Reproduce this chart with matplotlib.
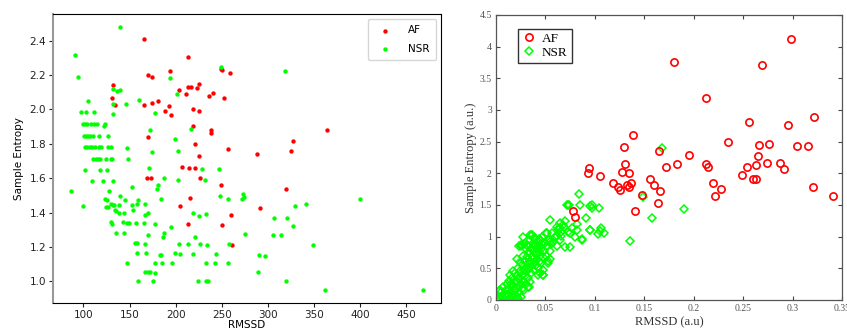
import numpy as np
import matplotlib
matplotlib.use("Agg")
import matplotlib.pyplot as plt
from matplotlib.lines import Line2D

# ---- left panel: RMSSD vs sample entropy (raw units) ----
af_left = [(166, 2.41), (213.6, 2.305), (170.4, 2.2), (174.8, 2.19), (194, 2.224),
           (132, 2.142), (130.5, 2.068), (134.5, 2.023), (166, 2.023), (174.8, 2.037),
           (181.3, 2.05), (188.6, 1.992), (193.3, 2.017), (195.5, 1.965), (203.5, 2.11),
           (211, 2.087), (213.6, 2.132), (216.5, 2.132), (222.7, 2.122), (224.9, 2.146),
           (218.7, 2.0), (225.6, 1.99), (236.5, 2.078), (240.9, 2.097), (248.9, 2.233),
           (250, 2.227), (258.7, 2.21), (252, 2.068), (218.7, 1.901), (169.7, 1.84),
           (220.9, 1.796), (238.3, 1.883), (238.3, 1.864), (256.9, 1.767), (287.7, 1.74),
           (325.1, 1.76), (327.7, 1.817), (363.6, 1.882), (225.6, 1.728), (206.8, 1.668),
           (214.8, 1.658), (220.9, 1.658), (169.3, 1.604), (173.3, 1.6), (226.7, 1.6),
           (249.6, 1.559), (319.7, 1.538), (215.5, 1.486), (204.6, 1.437), (291, 1.428),
           (260.5, 1.387), (212.9, 1.333), (250.3, 1.329), (261.2, 1.21)]

nsr_left = [(139.6, 2.478), (90.6, 2.318), (94.6, 2.186), (194.4, 2.183), (249.6, 2.249),
            (318.9, 2.223), (131.6, 2.118), (136.7, 2.107), (139.2, 2.113), (160.3, 2.054),
            (104.7, 2.05), (131.6, 2.033), (146.5, 2.031), (132.3, 1.973), (178, 1.977),
            (201, 2.089), (97.5, 1.982), (103.3, 1.982), (111.6, 1.982),
            (99.6, 1.913), (101.8, 1.913), (103.9, 1.913), (108.3, 1.913), (111.6, 1.913),
            (114.5, 1.913), (122.5, 1.905), (123.6, 1.915),
            (101, 1.847), (103.3, 1.847), (105.4, 1.847), (107.6, 1.847), (110.5, 1.847),
            (117, 1.847), (126.5, 1.847),
            (102.2, 1.782), (104.4, 1.782), (107.3, 1.782), (109.5, 1.782), (112.7, 1.782),
            (116.7, 1.782), (119.2, 1.782), (126.5, 1.782), (130.1, 1.782),
            (147.2, 1.773), (172.2, 1.882), (216.2, 1.887), (199.5, 1.827), (174.1, 1.755),
            (202.7, 1.757),
            (110.9, 1.714), (113.4, 1.714), (115.6, 1.714), (118.5, 1.714), (124.3, 1.714),
            (129.4, 1.714), (131.2, 1.714), (148.3, 1.713),
            (171.2, 1.658), (228.9, 1.652), (247.4, 1.652), (101.5, 1.65), (118.5, 1.648),
            (126.1, 1.648), (109.8, 1.586), (121.4, 1.586), (131.6, 1.586), (187.5, 1.604),
            (202.8, 1.59), (231.5, 1.59), (181.3, 1.559), (179.8, 1.538), (152.7, 1.55),
            (86.2, 1.526), (128.2, 1.526), (100, 1.437), (122.9, 1.482), (125.8, 1.472),
            (129.8, 1.453), (131.6, 1.443), (133.4, 1.443), (124.9, 1.435), (126.3, 1.435),
            (139.6, 1.495), (144.7, 1.472), (159.2, 1.472), (158.1, 1.453), (152.7, 1.443),
            (154.1, 1.416), (138.9, 1.443), (134.5, 1.416), (135.6, 1.408), (138.2, 1.395),
            (143.6, 1.395), (167.1, 1.449), (183.8, 1.482), (170.5, 1.398), (166.8, 1.387),
            (129.8, 1.348), (130.9, 1.336), (142.5, 1.346), (147.2, 1.342), (149.7, 1.342),
            (157, 1.342), (165.7, 1.342), (178, 1.336), (135.6, 1.284), (143.9, 1.284),
            (170.5, 1.27), (187.5, 1.284), (186.4, 1.261), (195.1, 1.319), (158.1, 1.222),
            (155.9, 1.222), (166.8, 1.216), (157.7, 1.164), (168.2, 1.164), (147.5, 1.11),
            (177.3, 1.11), (184.9, 1.11), (183.4, 1.156), (184.5, 1.154), (203.9, 1.216),
            (204.6, 1.158), (199.5, 1.164), (195.9, 1.106), (218.7, 1.158), (212.9, 1.216),
            (220.9, 1.259), (218.7, 1.397), (224.9, 1.381), (233.2, 1.391), (248.1, 1.495),
            (256.7, 1.482), (226.9, 1.22), (234.1, 1.21), (244.3, 1.158), (232.6, 1.11),
            (242.4, 1.106), (256.7, 1.106), (258.1, 1.22), (272.8, 1.507), (273.9, 1.493),
            (272.4, 1.478), (275, 1.278), (290.2, 1.156), (297.1, 1.15), (289.4, 1.055),
            (305.8, 1.269), (313.8, 1.269), (306.5, 1.366), (320.7, 1.367), (327.6, 1.321),
            (329.4, 1.441), (341, 1.449), (349.3, 1.212), (399.6, 1.482), (320, 1.001),
            (362.4, 0.951), (468.5, 0.951), (159.4, 1.001), (175, 1.001), (234.8, 1.001),
            (232.6, 1.001), (224.6, 1.001), (167.1, 1.055), (169.7, 1.055), (172.2, 1.055),
            (178, 1.052)]

# ---- right panel: normalised RMSSD vs sample entropy ----
af_right = [(0.1804, 3.75), (0.2987, 4.124), (0.2694, 3.717), (0.2127, 3.188), (0.2562, 2.818),
            (0.3213, 2.892), (0.295, 2.765), (0.1389, 2.6), (0.1298, 2.415), (0.1649, 2.352),
            (0.235, 2.49), (0.2663, 2.447), (0.2765, 2.458), (0.3048, 2.426), (0.3159, 2.426),
            (0.1952, 2.294), (0.2647, 2.272), (0.1308, 2.145), (0.1827, 2.15), (0.2121, 2.145),
            (0.1716, 2.093), (0.2148, 2.093), (0.2535, 2.103), (0.263, 2.124), (0.2744, 2.16),
            (0.2876, 2.16), (0.291, 2.066), (0.0944, 2.077), (0.0934, 2.01), (0.1052, 1.958),
            (0.118, 1.842), (0.1237, 1.79), (0.1258, 1.737), (0.1271, 2.026), (0.1342, 2.0),
            (0.1328, 1.816), (0.1342, 1.79), (0.1362, 1.853), (0.1403, 1.41), (0.1473, 1.658),
            (0.1561, 1.91), (0.1598, 1.816), (0.1662, 1.726), (0.1642, 1.537), (0.2192, 1.853),
            (0.2218, 1.647), (0.2279, 1.747), (0.2492, 1.974), (0.2596, 1.91), (0.263, 1.91),
            (0.321, 1.779), (0.3405, 1.642), (0.0782, 1.41), (0.0799, 1.305)]

nsr_right = [(0.1676, 2.4), (0.1483, 1.63), (0.1578, 1.289), (0.1898, 1.437), (0.1359, 0.932),
             (0.0843, 1.674), (0.085, 1.5), (0.0715, 1.5), (0.0739, 1.5), (0.0968, 1.5),
             (0.0968, 1.45), (0.1045, 1.45), (0.1062, 1.132), (0.1096, 1.063), (0.1035, 1.042),
             (0.0907, 1.3), (0.095, 1.1), (0.0873, 0.947), (0.0823, 1.2), (0.0799, 1.0),
             (0.0749, 1.063), (0.0698, 1.253), (0.0698, 0.832), (0.0654, 1.011),
             (0.0546, 1.263), (0.0506, 1.063), (0.0546, 0.91), (0.0614, 1.01), (0.0647, 1.13),
             (0.0691, 1.158), (0.0765, 1.13), (0.0816, 1.105), (0.0388, 0.868), (0.0344, 1.026),
             (0.026, 0.868), (0.0317, 0.868), (0.0432, 0.963), (0.0479, 0.395), (0.0327, 0.21),
             (0.0226, 0.026), (0.0034, 0.147), (0.0013, 0.0), (0.0731, 1.495), (0.0951, 1.484),
             (0.0647, 1.221), (0.0614, 1.158), (0.0361, 1.026), (0.0276, 1.0), (0.025, 0.868),
             (0.0445, 0.947), (0.0749, 0.842), (0.0867, 0.958), (0.0951, 1.105), (0.1052, 1.094),
             (0.0731, 1.079), (0.0529, 0.579), (0.0479, 0.474), (0.0337, 0.21), (0.0428, 0.395),
             (0.004, 0.158), (0.0007, 0.026),
             (0.002, 0.02), (0.004, 0.0), (0.006, 0.05), (0.008, 0.02), (0.005, 0.12),
             (0.009, 0.08), (0.01, 0.15), (0.007, 0.2), (0.012, 0.0), (0.011, 0.05),
             (0.012, 0.1), (0.013, 0.18), (0.014, 0.03), (0.015, 0.25), (0.015, 0.12),
             (0.016, 0.06), (0.016, 0.35), (0.017, 0.2), (0.018, 0.0), (0.018, 0.28),
             (0.019, 0.15), (0.019, 0.42), (0.02, 0.08), (0.02, 0.3), (0.013, 0.3),
             (0.014, 0.4), (0.017, 0.45), (0.011, 0.25), (0.021, 0.02), (0.022, 0.2),
             (0.021, 0.38), (0.022, 0.5), (0.023, 0.12), (0.023, 0.33), (0.024, 0.45),
             (0.024, 0.6), (0.025, 0.25), (0.025, 0.05), (0.026, 0.4), (0.026, 0.55),
             (0.027, 0.3), (0.027, 0.7), (0.028, 0.48), (0.028, 0.15), (0.029, 0.62),
             (0.029, 0.38), (0.03, 0.52), (0.03, 0.8), (0.021, 0.65), (0.023, 0.85),
             (0.025, 0.86), (0.022, 0.28), (0.026, 0.18), (0.028, 0.88), (0.03, 0.25),
             (0.031, 0.45), (0.031, 0.68), (0.032, 0.58), (0.032, 0.35), (0.033, 0.75),
             (0.033, 0.5), (0.034, 0.62), (0.034, 0.95), (0.035, 0.42), (0.035, 0.8),
             (0.036, 0.55), (0.036, 0.7), (0.037, 0.9), (0.037, 0.65), (0.038, 0.48),
             (0.038, 0.78), (0.039, 0.6), (0.039, 0.85), (0.04, 0.72), (0.04, 0.55),
             (0.036, 1.02), (0.034, 0.28), (0.032, 0.85), (0.038, 0.98),
             (0.041, 0.82), (0.041, 0.65), (0.042, 0.9), (0.042, 0.5), (0.043, 0.75),
             (0.043, 0.6), (0.044, 0.85), (0.045, 0.7), (0.045, 0.95), (0.046, 0.58),
             (0.046, 0.8), (0.047, 0.88), (0.048, 0.68), (0.048, 0.4), (0.049, 0.78),
             (0.05, 0.9), (0.044, 0.42), (0.047, 1.0),
             (0.051, 0.7), (0.052, 0.85), (0.053, 0.62), (0.054, 0.95), (0.055, 0.78),
             (0.056, 0.88), (0.057, 1.05), (0.058, 0.92), (0.06, 1.0), (0.062, 0.85),
             (0.063, 1.12), (0.065, 0.95), (0.066, 1.08), (0.068, 1.18), (0.052, 1.05),
             (0.055, 0.65)]

right_xticks = [0, 0.05, 0.1, 0.15, 0.2, 0.25, 0.3, 0.35]
right_yticks = [0, 0.5, 1, 1.5, 2, 2.5, 3, 3.5, 4, 4.5]

RED = "#ff0000"
GREEN = "#00ff00"

fig = plt.figure(figsize=(8.47, 3.33), dpi=100)

# left
ax1 = fig.add_axes([0.0626, 0.09, 0.458, 0.868])
x, y = zip(*af_left)
ax1.scatter(x, y, s=10, color=RED, label="AF", linewidths=0)
x, y = zip(*nsr_left)
ax1.scatter(x, y, s=10, color=GREEN, label="NSR", linewidths=0)
ax1.set_xticks([100, 150, 200, 250, 300, 350, 400, 450])
ax1.set_yticks([1.0, 1.2, 1.4, 1.6, 1.8, 2.0, 2.2, 2.4])
ax1.tick_params(labelsize=7.5, length=3, pad=2, colors="#222222")
ax1.set_xlabel("RMSSD", fontsize=7.5, labelpad=0)
ax1.set_ylabel("Sample Entropy", fontsize=7.5, labelpad=4)
ax1.spines["left"].set_color("#999999")
ax1.spines["left"].set_linewidth(1.5)
ax1.legend(loc="upper right", fontsize=7.5, markerscale=1.0, handletextpad=1.2,
           borderpad=0.6, labelspacing=0.8)

# right, matlab-ish styling
serif = ["Liberation Serif", "DejaVu Serif"]
ax2 = fig.add_axes([0.5856, 0.0991, 0.4085, 0.8559])
x, y = zip(*nsr_right)
ax2.plot(x, y, linestyle="none", marker="D", markersize=4.2, markerfacecolor="none",
         markeredgecolor=GREEN, markeredgewidth=1.1, zorder=2)
x, y = zip(*af_right)
ax2.plot(x, y, linestyle="none", marker="o", markersize=5.2, markerfacecolor="none",
         markeredgecolor=RED, markeredgewidth=1.2, zorder=3)
ax2.set_xlim(0, 0.35)
ax2.set_ylim(0, 4.5)
ax2.set_xticks(right_xticks)
ax2.set_xticklabels([f"{t:g}" for t in right_xticks], family=serif)
ax2.set_yticks(right_yticks)
ax2.set_yticklabels([f"{t:g}" for t in right_yticks], family=serif)
ax2.tick_params(direction="in", top=True, right=True, length=3, labelsize=7,
                labelcolor="#555555", color="#444444", pad=3)
for s in ax2.spines.values():
    s.set_color("#555555")
    s.set_linewidth(0.9)
ax2.set_xlabel("RMSSD (a.u)", fontsize=9, family=serif, color="#333333", labelpad=2)
ax2.set_ylabel("Sample Entropy (a.u.)", fontsize=9, family=serif, color="#333333", labelpad=2)
handles = [Line2D([], [], linestyle="none", marker="o", markersize=5.2, markerfacecolor="none",
                  markeredgecolor=RED, markeredgewidth=1.2),
           Line2D([], [], linestyle="none", marker="D", markersize=4.2, markerfacecolor="none",
                  markeredgecolor=GREEN, markeredgewidth=1.1)]
leg = ax2.legend(handles, ["AF", "NSR"], loc="upper left", prop={"family": serif, "size": 9.5},
                 fancybox=False, framealpha=1, edgecolor="#333333", handlelength=1.0,
                 handletextpad=0.5, borderpad=0.3, labelspacing=0.15,
                 bbox_to_anchor=(0.045, 0.975))
leg.get_frame().set_linewidth(1.0)

fig.savefig("out.png", dpi=100)
